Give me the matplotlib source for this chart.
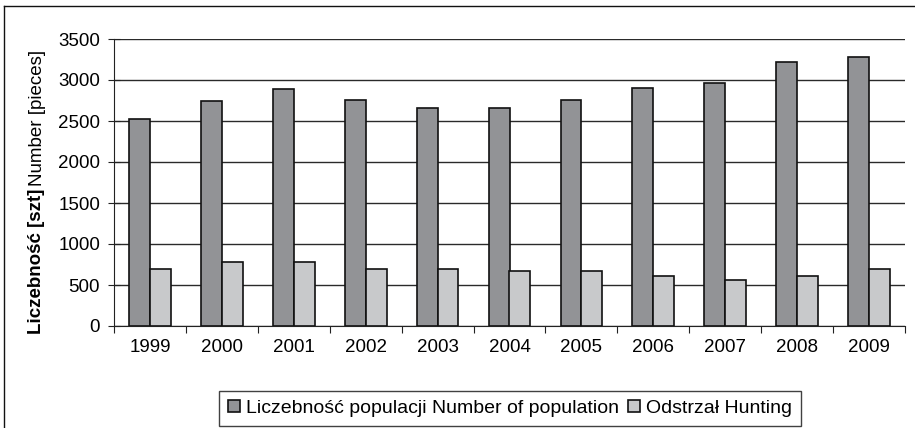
import matplotlib.pyplot as plt
import numpy as np
from matplotlib.lines import Line2D

plt.rcParams['font.family'] = ['Liberation Sans', 'DejaVu Sans']

# Data
years = ['1999', '2000', '2001', '2002', '2003', '2004', '2005', '2006', '2007', '2008', '2009']
population = [2530, 2740, 2890, 2760, 2660, 2660, 2760, 2900, 2960, 3220, 3280]
hunting = [700, 780, 780, 700, 700, 670, 670, 610, 560, 610, 690]

fig = plt.figure(figsize=(9.15, 4.28), dpi=100)
ax = fig.add_axes([114 / 915, 1 - 326 / 428, 791 / 915, 287 / 428])

x = np.arange(len(years))
w = 0.29
ax.bar(x - w / 2, population, w, color='#929396', edgecolor='#111111', linewidth=1.2,
       label='Liczebność populacji Number of population', zorder=3)
ax.bar(x + w / 2, hunting, w, color='#c8c9cb', edgecolor='#111111', linewidth=1.2,
       label='Odstrzał Hunting', zorder=3)

ax.set_xlim(-0.5, len(years) - 0.5)
ax.set_ylim(0, 3500)
ax.set_yticks(np.arange(0, 3501, 500))
ax.yaxis.grid(True, color='#2a2a2a', linewidth=1)
ax.set_axisbelow(True)

# category ticks between groups, labels centred
ax.set_xticks(np.arange(-0.5, len(years), 1))
ax.set_xticklabels([])
ax.set_xticks(x, minor=True)
ax.set_xticklabels(years, minor=True)
ax.tick_params(axis='x', which='minor', length=0, pad=9, labelsize=13.5)
ax.tick_params(axis='x', which='major', length=5, color='#222222', direction='out')
ax.tick_params(axis='y', length=8, direction='inout', labelsize=13.5, pad=6, color='#222222')

for s in ['top', 'right']:
    ax.spines[s].set_visible(False)
ax.spines['left'].set_color('#222222')
ax.spines['bottom'].set_color('#222222')

# y label: bold Polish part, plain English part
fig.canvas.draw()
r = fig.canvas.get_renderer()
t1 = fig.text(37 / 915, 1 - 334 / 428, 'Liczebność [szt]', rotation=90, fontsize=13.5,
              fontweight='bold', ha='center', va='bottom')
bb = t1.get_window_extent(r)
fig.text(37 / 915, (bb.y1 + 3) / 428, 'Number [pieces]', rotation=90, fontsize=13.5,
         ha='center', va='bottom')

leg = fig.legend(loc='center', bbox_to_anchor=(510 / 915, 1 - 408.5 / 428), ncol=2,
                 fontsize=14, frameon=True, fancybox=False, edgecolor='#111111',
                 handlelength=0.6, handleheight=0.6, handletextpad=0.3, columnspacing=0.5,
                 borderpad=0.45)
leg.get_frame().set_linewidth(1)

# outer frame: only top and left edges visible
fig.lines.append(Line2D([4 / 915, 1], [1 - 6 / 428, 1 - 6 / 428], transform=fig.transFigure,
                        color='#111111', linewidth=1))
fig.lines.append(Line2D([4 / 915, 4 / 915], [0, 1 - 6 / 428], transform=fig.transFigure,
                        color='#111111', linewidth=1))

fig.savefig('out.png', dpi=100)
